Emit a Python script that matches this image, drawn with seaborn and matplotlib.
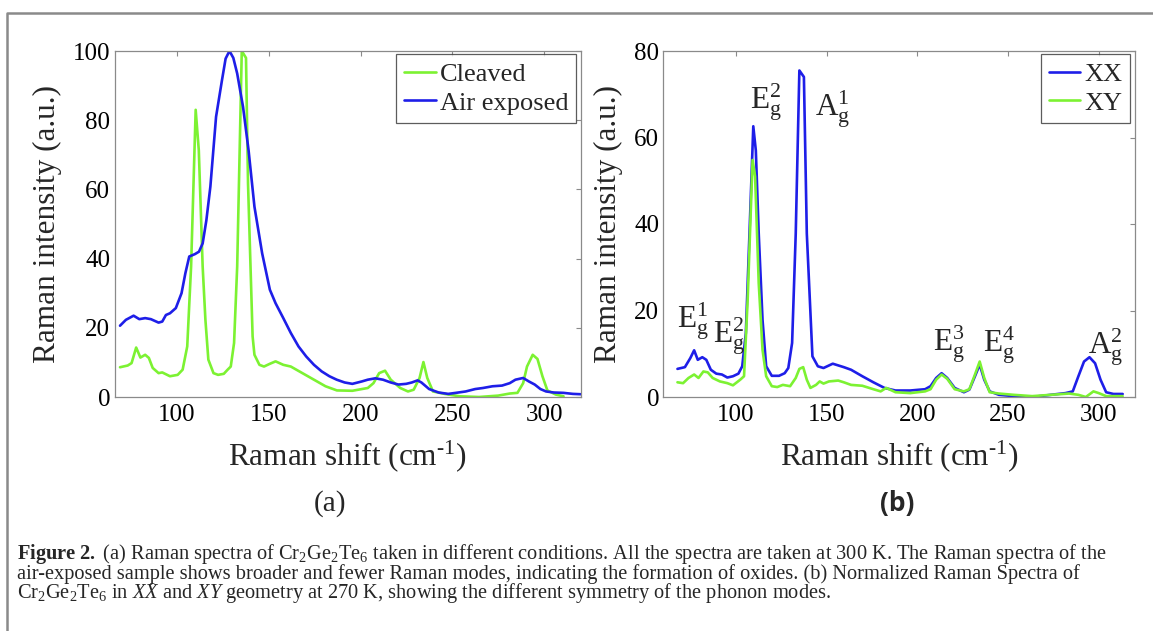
import numpy as np
import pandas as pd
import matplotlib
matplotlib.use("Agg")
import matplotlib.pyplot as plt
import seaborn as sns
from matplotlib.lines import Line2D

# ---------------- data ----------------
# Panel (a): air exposed (blue)
air_x = [69, 72.2, 76.4, 79.5, 82.7, 85.8, 90, 92, 94, 96.2, 99.4, 102.5, 104.6, 106.7, 109.8, 112,
         114, 116, 118.2, 121.3, 124.5, 126.5, 128.6, 130.7, 132.8, 136, 139, 142.2, 146.4, 150.6,
         153.7, 157.9, 162, 166.2, 170.4, 174.6, 178.8, 183, 187, 191.3, 195.5, 200.7, 203.9, 208,
         212.2, 216.4, 220.6, 224.8, 227.9, 231, 233.1, 237.3, 242.5, 247.7, 251.9, 257.2, 262.4,
         266.6, 271.8, 277, 281.2, 284.3, 288.5, 291.6, 294.8, 297.9, 301, 305.2, 310.4, 315.6, 319.8]
air_y = [20.6, 22.3, 23.5, 22.5, 22.8, 22.5, 21.5, 21.8, 23.7, 24.2, 25.7, 30, 35.8, 40.6, 41.3, 42,
         44.4, 51, 60.8, 81, 91.5, 97.8, 100, 98, 93.5, 83.8, 71.3, 55, 41.5, 31,
         27.1, 22.8, 18.5, 14.6, 11.7, 9.3, 7.4, 6, 5, 4.2, 3.8, 4.5, 5, 5.4,
         5, 4.2, 3.6, 3.8, 4.2, 4.8, 4.2, 2.3, 1.3, 0.9, 1.2, 1.6, 2.3,
         2.6, 3.1, 3.3, 4, 5, 5.5, 4.5, 3.6, 2.3, 1.6, 1.3, 1.2, 0.9, 0.8]

# Panel (a): cleaved (green)
clv_x = [69, 73.2, 75.3, 77.8, 80.1, 82.7, 84.7, 86.8, 90, 92, 96.2, 100.4, 103.1, 105.6, 107.7,
         110.2, 111.9, 114, 115.5, 117.1, 119.9, 122.4, 125.5, 127.6, 129.3, 131.1, 132.8, 135.3,
         137.6, 138.7, 141.2, 142.2, 144.9, 147.4, 150.6, 153.7, 157.9, 162, 168.3, 174.6, 180.9,
         187.1, 195.5, 203.9, 207, 210.1, 213.3, 216.4, 221.6, 225.8, 228.9, 232.1, 234.2, 236.3,
         239.4, 245.7, 254, 264.5, 274.9, 281.2, 285.4, 288.5, 290.6, 293.7, 296.3, 299, 301.7,
         306.3, 310.5]
clv_y = [8.6, 9.1, 9.8, 14.3, 11.4, 12.2, 11.3, 8.4, 6.9, 7.1, 6, 6.4, 7.9, 14.6, 37.7,
         83, 71.3, 37.7, 22.3, 10.8, 6.9, 6.4, 6.7, 7.9, 8.8, 15.6, 37.7, 100,
         98, 61.7, 17.5, 12.2, 9.3, 8.8, 9.6, 10.3, 9.3, 8.8, 6.9, 5, 3.1,
         1.9, 1.8, 2.6, 4, 6.9, 7.6, 5, 2.6, 1.6, 2.1, 5.5, 10.1, 5.5,
         1.6, 0.9, 0.2, 0, 0.4, 1, 1.2, 4, 8.8, 12.2, 11, 6, 1.9,
         0.7, 0.2]

# Panel (b): XX (blue)
xx_x = [67.8, 71.9, 74.9, 77, 79, 81.5, 83.7, 86.2, 89.2, 92.3, 95.3, 98.4, 101.4, 103.5, 105.5,
        107.5, 109.6, 111, 112.6, 114.7, 116.7, 119.8, 123.8, 126.9, 128.9, 131, 133, 135, 137.5,
        139.1, 142.2, 145.2, 148.3, 153.4, 159.5, 163.5, 169.7, 175.8, 181.9, 188, 196.1, 204.3,
        207.3, 210.4, 213.4, 216.5, 220.6, 225.7, 228.7, 231.8, 234.4, 236.9, 239.9, 245, 253.2,
        263.3, 273.5, 281.7, 285.7, 288.8, 291.9, 294.9, 298, 301, 304.1, 308.1, 313.2]
xx_y = [6.5, 6.9, 9, 10.8, 8.6, 9.2, 8.6, 6.3, 5.4, 5.2, 4.5, 4.8, 5.4, 7.1, 14.8,
        37.8, 62.6, 57, 37.8, 17.8, 7.1, 4.9, 4.9, 5.5, 6.7, 12.5, 37.8, 75.5, 74,
        37.8, 9.4, 7.1, 6.7, 7.7, 6.9, 6.3, 4.8, 3.4, 2.1, 1.5, 1.5, 1.8,
        2.5, 4.4, 5.5, 4.4, 2.1, 1.1, 1.7, 4.8, 7.5, 4, 1.3, 0.5, 0.2,
        0, 0.5, 0.9, 1.3, 4.8, 8.2, 9.2, 7.8, 4, 1.1, 0.7, 0.7]

# Panel (b): XY (green)
xy_x = [67.8, 70.9, 73.9, 77, 79.4, 82.1, 84.5, 87.2, 91.2, 95.3, 98.4, 102.4, 104.5, 106.5, 109.2,
        110.6, 112.6, 114.7, 116.7, 119.8, 122.8, 125.9, 129.9, 133, 135, 137.1, 139.1, 141.1,
        144.2, 146.2, 148.3, 151.3, 156.4, 159.5, 163.5, 169.7, 175.8, 179.8, 182.9, 188, 196.1,
        204.3, 207.3, 210.4, 213.4, 216.5, 220.6, 225.7, 228.7, 231.8, 234.4, 236.9, 239.9, 245,
        253.2, 263.3, 273.5, 283.7, 288.8, 292.9, 297.1, 300, 304.1, 313.2]
xy_y = [3.4, 3.2, 4.4, 5.2, 4.4, 5.9, 5.7, 4.4, 3.6, 3.2, 2.7, 4, 4.8, 22.5, 54.8,
        51, 26.3, 10.9, 4.8, 2.5, 2.3, 2.8, 2.5, 4.4, 6.5, 6.9, 4, 2.1,
        2.8, 3.6, 3.1, 3.6, 3.8, 3.4, 2.8, 2.6, 1.8, 1.3, 2.1, 1.1, 0.9,
        1.3, 1.8, 4, 5.2, 4.2, 1.8, 1.3, 1.8, 5.2, 8.2, 4.4, 1.1, 0.8,
        0.5, 0.2, 0.5, 0.8, 0.5, 0, 1.3, 0.9, 0.2, 0.2]

# Mode labels for panel (b)
mode_labels = [r"E$_\mathrm{g}^\mathrm{1}$", r"E$_\mathrm{g}^\mathrm{2}$", r"E$_\mathrm{g}^\mathrm{2}$",
               r"A$_\mathrm{g}^\mathrm{1}$", r"E$_\mathrm{g}^\mathrm{3}$", r"E$_\mathrm{g}^\mathrm{4}$",
               r"A$_\mathrm{g}^\mathrm{2}$"]
mode_x = [67.6, 87.4, 107.9, 143.5, 208.5, 236.3, 294.2]
mode_y = [16.0, 12.7, 66.8, 65.2, 10.8, 10.6, 10.1]

xticks = [100, 150, 200, 250, 300]
yticks_a = [0, 20, 40, 60, 80, 100]
yticks_b = [0, 20, 40, 60, 80]

caption_lines = [
    r"$\mathbf{Figure\ 2.}$ (a) Raman spectra of Cr$_2$Ge$_2$Te$_6$ taken in different conditions. "
    r"All the spectra are taken at 300 K. The Raman spectra of the",
    "air-exposed sample shows broader and fewer Raman modes, indicating the formation of oxides. "
    "(b) Normalized Raman Spectra of",
    r"Cr$_2$Ge$_2$Te$_6$ in $\mathit{XX}$ and $\mathit{XY}$ geometry at 270 K, "
    r"showing the different symmetry of the phonon modes.",
]

# ---------------- style ----------------
sns.set_theme(style="white")
plt.rcParams["font.family"] = ["Liberation Serif", "DejaVu Serif"]
plt.rcParams["mathtext.fontset"] = "custom"
plt.rcParams["mathtext.rm"] = "Liberation Serif"
plt.rcParams["mathtext.it"] = "Liberation Serif:italic"
plt.rcParams["mathtext.bf"] = "Liberation Serif:bold"

BLUE = "#1e1ee8"
GREEN = "#7cf232"
SPINE = "#8a8a8a"

W, H = 1153, 631
fig = plt.figure(figsize=(W / 100, H / 100), dpi=100)
fig.patch.set_facecolor("white")


def fx(px):
    return px / W


def fy(py):
    return 1 - py / H


axA = fig.add_axes([fx(114.5), fy(397), fx(581) - fx(114.5), fy(51) - fy(397)])
axB = fig.add_axes([fx(663.3), fy(397), fx(1135) - fx(663.3), fy(51) - fy(397)])

dfa = pd.concat([
    pd.DataFrame({"shift": clv_x, "I": clv_y, "s": "Cleaved"}),
    pd.DataFrame({"shift": air_x, "I": air_y, "s": "Air exposed"}),
])
dfb = pd.concat([
    pd.DataFrame({"shift": xx_x, "I": xx_y, "s": "XX"}),
    pd.DataFrame({"shift": xy_x, "I": xy_y, "s": "XY"}),
])

sns.lineplot(data=dfa, x="shift", y="I", hue="s", palette={"Cleaved": GREEN, "Air exposed": BLUE},
             linewidth=1.9, ax=axA, sort=False, estimator=None)
sns.lineplot(data=dfb, x="shift", y="I", hue="s", palette={"XX": BLUE, "XY": GREEN},
             linewidth=1.9, ax=axB, sort=False, estimator=None)

for ax, yt, xl, yl in [(axA, yticks_a, (66, 320), (0, 100)), (axB, yticks_b, (60, 320), (0, 80))]:
    ax.set_xlim(*xl)
    ax.set_ylim(*yl)
    ax.set_xticks(xticks)
    ax.set_yticks(yt)
    ax.tick_params(direction="in", top=True, right=True, length=3.8, width=0.8, color=SPINE,
                   labelsize=18, labelcolor="black")
    ax.tick_params(axis="y", pad=3)
    ax.tick_params(axis="x", pad=5)
    for sp in ax.spines.values():
        sp.set_color(SPINE)
        sp.set_linewidth(0.9)
    ax.set_xlabel(r"Raman shift (cm$^{\text{-1}}$)", fontsize=22.5, labelpad=9)
    ax.set_ylabel("Raman intensity (a.u.)", fontsize=22.5, labelpad=8)
    leg = ax.legend(loc="upper right", bbox_to_anchor=(0.99, 0.99), borderaxespad=0, fontsize=19,
                    frameon=True, fancybox=False, borderpad=0.3, labelspacing=0.2,
                    handlelength=1.2, handletextpad=0.15, title=None)
    leg.get_frame().set_edgecolor("#333333")
    leg.get_frame().set_linewidth(0.9)
    for ln in leg.get_lines():
        ln.set_linewidth(1.9)

for lab, x, y in zip(mode_labels, mode_x, mode_y):
    axB.text(x, y, lab, fontsize=22.5, ha="left", va="baseline")

fig.text(fx(330), fy(504), "(a)", fontsize=21, ha="center", va="center")
fig.text(fx(897), fy(504), "(b)", fontsize=19, ha="center", va="center", fontweight="bold",
         family=["Open Sans", "DejaVu Sans"])

# outer frame
fig.add_artist(Line2D([fx(7), fx(7), fx(1160)], [fy(640), fy(13), fy(13)], color="#8a8a8a",
                      linewidth=1.8, transform=fig.transFigure, clip_on=False))

# caption: one multi-line text, width fitted to the reference line length,
# line pitch fitted to the reference (~19.3 px between baselines)
renderer = fig.canvas.get_renderer()
cap_size = 13.0
probe = fig.text(0, 0, caption_lines[0], fontsize=cap_size)
wpx = probe.get_window_extent(renderer).width
cap_size = cap_size * (1105 - 16.7) / wpx
probe.set_fontsize(cap_size)
h1 = probe.get_window_extent(renderer).height
probe.remove()

cap = fig.text(fx(16.7), fy(561 - 0.78 * h1), "\n".join(caption_lines), fontsize=cap_size,
               ha="left", va="top", linespacing=1.0)
target = h1 + 2 * 19.3
lo, hi = 0.5, 1.5
for _ in range(25):
    mid = 0.5 * (lo + hi)
    cap.set_linespacing(mid)
    if cap.get_window_extent(renderer).height > target:
        hi = mid
    else:
        lo = mid
cap.set_linespacing(0.5 * (lo + hi))

fig.savefig("out.png", dpi=100, facecolor="white")
